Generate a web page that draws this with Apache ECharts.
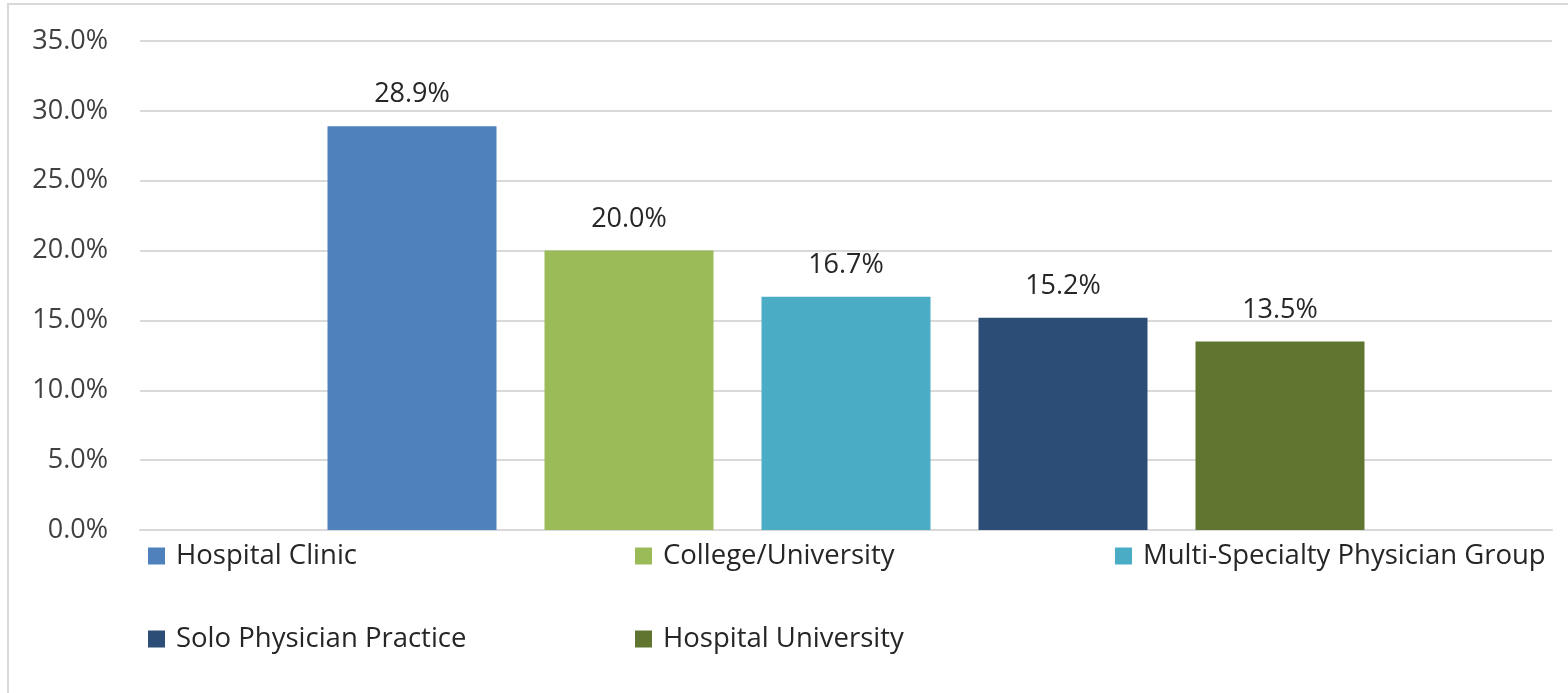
<!DOCTYPE html>
<html>
<head>
<meta charset="utf-8">
<script src="https://cdn.jsdelivr.net/npm/echarts@6/dist/echarts.min.js"></script>
<style>
  html, body { margin: 0; padding: 0; background: #fff; }
  #chart { width: 1568px; height: 693px; }
</style>
</head>
<body>
<div id="chart"></div>
<script>
var seriesNames = ["Hospital Clinic", "College/University", "Multi-Specialty Physician Group", "Solo Physician Practice", "Hospital University"];
var seriesValues = [28.9, 20.0, 16.7, 15.2, 13.5];
var seriesColors = ["#4F81BD", "#9BBB59", "#4BACC6", "#2C4D75", "#5F7530"];
var yTicks = [0, 5, 10, 15, 20, 25, 30, 35];

var font = "'Open Sans', 'Noto Sans', sans-serif";
var legendPos = [
  { left: 148, top: 541 },
  { left: 635, top: 541 },
  { left: 1115, top: 541 },
  { left: 148, top: 624 },
  { left: 635, top: 624 }
];

var legends = seriesNames.map(function (name, i) {
  return {
    data: [name],
    left: legendPos[i].left,
    top: legendPos[i].top,
    icon: "rect",
    itemWidth: 17,
    itemHeight: 17,
    itemGap: 0,
    padding: 0,
    selectedMode: false,
    textStyle: { color: "#262626", fontSize: 27.5, lineHeight: 30, fontFamily: font, padding: [0, 0, 0, 6] }
  };
});

var series = seriesNames.map(function (name, i) {
  return {
    name: name,
    type: "bar",
    data: [seriesValues[i]],
    barWidth: 169,
    barGap: "28.4%",
    itemStyle: { color: seriesColors[i] },
    label: {
      show: true,
      position: "top",
      distance: 18,
      formatter: function (p) { return p.value.toFixed(1) + "%"; },
      color: "#262626",
      fontSize: 27,
      fontFamily: font
    }
  };
});

var chart = echarts.init(document.getElementById("chart"));
chart.setOption({
  animation: false,
  backgroundColor: "#fff",
  grid: { left: 140, right: 16, top: 41, bottom: 163, containLabel: false },
  legend: legends,
  xAxis: {
    type: "category",
    data: [""],
    axisLine: { show: true, lineStyle: { color: "#d9d9d9", width: 2 } },
    axisTick: { show: false },
    axisLabel: { show: false }
  },
  yAxis: {
    type: "value",
    min: yTicks[0],
    max: yTicks[yTicks.length - 1],
    interval: 5,
    axisLine: { show: false },
    axisTick: { show: false },
    splitLine: { lineStyle: { color: "#d9d9d9", width: 2 } },
    axisLabel: {
      margin: 32,
      color: "#404040",
      fontSize: 27,
      fontFamily: font,
      formatter: function (v) { return v.toFixed(1) + "%"; }
    }
  },
  graphic: [{
    type: "rect",
    shape: { x: 8, y: 4, width: 1700, height: 900 },
    style: { fill: "none", stroke: "#d9d9d9", lineWidth: 2 },
    silent: true
  }],
  series: series
});
</script>
</body>
</html>
